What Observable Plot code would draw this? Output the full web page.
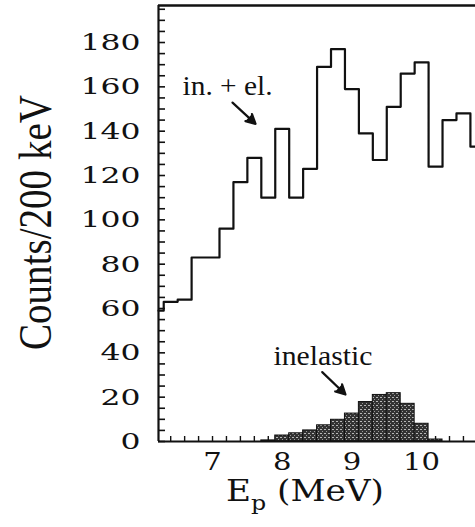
<!DOCTYPE html>
<html>
<head>
<meta charset="utf-8">
<script src="https://cdn.jsdelivr.net/npm/d3@7"></script>
<script src="https://cdn.jsdelivr.net/npm/@observablehq/plot@0.6"></script>
<style>
  body { margin: 0; background: #fff; }
  #chart { width: 475px; height: 527px; }
</style>
</head>
<body>
<div id="chart"></div>
<script>
// ---- data ----
const xDomain = [6.225, 10.773];          // E_p (MeV) visible range
const yDomain = [0, 196.7];               // Counts/200 keV visible range
const binWidth = 0.2;                     // 200 keV bins

// in. + el. (open histogram)
const totalBinStart = [6.1, 6.3, 6.5, 6.7, 6.9, 7.1, 7.3, 7.5, 7.7, 7.9, 8.1, 8.3,
                       8.5, 8.7, 8.9, 9.1, 9.3, 9.5, 9.7, 9.9, 10.1, 10.3, 10.5, 10.7];
const totalCounts   = [59, 63, 64, 83, 83, 96, 117, 128, 110, 141, 110, 123,
                       169, 177, 159, 139, 127, 151, 166, 171, 124, 145, 148, 133];

// inelastic (filled histogram)
const inelBinStart = [7.7, 7.9, 8.1, 8.3, 8.5, 8.7, 8.9, 9.1, 9.3, 9.5, 9.7, 9.9, 10.1];
const inelCounts   = [0.5, 2.7, 3.7, 5, 7.3, 9.8, 12.6, 17.8, 21, 21.8, 17, 8, 0.9];

// ticks
const yTickLabels = [0, 20, 40, 60, 80, 100, 120, 140, 160, 180];
const yMinorTicks = [0, 5, 10, 15, 20, 25, 30, 35, 40, 45, 50, 55, 60, 65, 70, 75, 80, 85, 90, 95,
                     100, 105, 110, 115, 120, 125, 130, 135, 140, 145, 150, 155, 160, 165, 170, 175, 180, 185, 190, 195];
const xTickLabels = [7, 8, 9, 10];
const xMinorTicks = [6.4, 6.6, 6.8, 7.0, 7.2, 7.4, 7.6, 7.8, 8.0, 8.2, 8.4, 8.6, 8.8, 9.0,
                     9.2, 9.4, 9.6, 9.8, 10.0, 10.2, 10.4, 10.6];

// annotations
const annotText = ["in. + el.", "inelastic"];
const annotX    = [6.57, 7.875];
const annotY    = [156.3, 34.6];
const annotLen  = [90, 99];
const arrowX1 = [7.287, 8.574];
const arrowY1 = [152.9, 31.3];
const arrowX2 = [7.617, 8.908];
const arrowY2 = [143.3, 21.2];

const yLabel = "Counts/200 keV";
const xLabelMain = "E", xLabelSub = "p", xLabelRest = " (MeV)";
const xLabelFull = xLabelMain + xLabelSub + xLabelRest;

// ---- layout ----
const W = 475, H = 527;
const mL = 158, mR = 0, mT = 5, mB = 86;
const pxPerX = (W - mL - mR) / (xDomain[1] - xDomain[0]);
const pxPerY = (H - mT - mB) / (yDomain[1] - yDomain[0]);

// ---- derived tables ----
const totalSteps = totalBinStart.map((s, i) => ({x: Math.max(s, xDomain[0]), y: totalCounts[i]}));
totalSteps.push({
  x: Math.min(totalBinStart[totalBinStart.length - 1] + binWidth, xDomain[1]),
  y: totalCounts[totalCounts.length - 1]
});
const inel = inelBinStart.map((s, i) => ({x1: s, x2: s + binWidth, y: inelCounts[i]}));
const annots = annotText.map((t, i) => ({t, x: annotX[i], y: annotY[i]}));
const arrows = arrowX1.map((x, i) => ({x1: x, y1: arrowY1[i], x2: arrowX2[i], y2: arrowY2[i]}));

const ink = "#111";

const svg = Plot.plot({
  width: W, height: H,
  marginLeft: mL, marginRight: mR, marginTop: mT, marginBottom: mB,
  x: {domain: xDomain, label: null},
  y: {domain: yDomain, label: null},
  style: {background: "#fff", color: ink, fontFamily: "DejaVu Serif"},
  marks: [
    // inward minor ticks
    Plot.ruleY(yMinorTicks, {y: d => d, x1: xDomain[0], x2: xDomain[0] + 7 / pxPerX, stroke: ink, strokeWidth: 1.6}),
    Plot.ruleX(xMinorTicks, {x: d => d, y1: 0, y2: 5 / pxPerY, stroke: ink, strokeWidth: 1.4}),
    // inelastic filled histogram
    Plot.rectY(inel, {x1: "x1", x2: "x2", y: "y", fill: "#444", stroke: ink, strokeWidth: 1}),
    // in. + el. step histogram
    Plot.line(totalSteps, {x: "x", y: "y", curve: "step-after", stroke: ink, strokeWidth: 2.2}),
    // frame: left, bottom, top
    Plot.ruleX([xDomain[0]], {stroke: ink, strokeWidth: 2.2}),
    Plot.ruleY([yDomain[0]], {stroke: ink, strokeWidth: 2.2}),
    Plot.ruleY([yDomain[1]], {stroke: ink, strokeWidth: 2.6}),
    // axes labels
    Plot.axisY(yTickLabels, {tickSize: 0, tickPadding: 18, fontSize: 23, fontFamily: "DejaVu Serif", fill: ink, label: null}),
    Plot.axisX(xTickLabels, {tickSize: 0, tickPadding: 11, fontSize: 25, fontFamily: "DejaVu Serif", fill: ink, label: null}),
    Plot.text([yLabel], {frameAnchor: "left", text: d => d, rotate: -90, dx: -123, dy: -1,
      textAnchor: "middle", lineAnchor: "middle", fontSize: 47, fontFamily: "Liberation Serif", fill: ink}),
    Plot.text([xLabelFull], {frameAnchor: "bottom", text: d => d, dx: -12, dy: 59,
      textAnchor: "middle", lineAnchor: "bottom", fontSize: 29, fontFamily: "DejaVu Serif", fill: ink}),
    // annotations
    Plot.text(annots, {x: "x", y: "y", text: "t", textAnchor: "start", lineAnchor: "bottom",
      fontSize: 28, fontFamily: "Liberation Serif", fill: ink}),
    Plot.arrow(arrows, {x1: "x1", y1: "y1", x2: "x2", y2: "y2", stroke: ink, fill: ink,
      strokeWidth: 2.2, headLength: 12, headAngle: 55})
  ]
});

// ---- post-processing: stipple fill, stretched glyphs, subscript ----
const s = d3.select(svg);
const defs = s.insert("defs", ":first-child");
const pat = defs.append("pattern").attr("id", "stip").attr("patternUnits", "userSpaceOnUse")
  .attr("width", 4).attr("height", 4);
pat.append("rect").attr("width", 4).attr("height", 4).attr("fill", "#333");
pat.append("rect").attr("x", 0).attr("y", 1).attr("width", 2).attr("height", 1).attr("fill", "#b8b8b8");
pat.append("rect").attr("x", 2).attr("y", 3).attr("width", 1).attr("height", 1).attr("fill", "#9a9a9a");
s.selectAll("rect").filter(function() { return this.getAttribute("fill") === "#444" || (this.parentNode && this.parentNode.getAttribute("fill") === "#444"); })
  .attr("fill", "url(#stip)");
s.selectAll("g").filter(function() { return this.getAttribute("fill") === "#444"; }).attr("fill", "url(#stip)");

const stretch = (el, len) => d3.select(el).attr("textLength", len).attr("lengthAdjust", "spacingAndGlyphs");
s.selectAll('g[aria-label="y-axis tick label"] text').each(function() {
  stretch(this, 20 * this.textContent.length);
});
s.selectAll('g[aria-label="x-axis tick label"] text').each(function() {
  stretch(this, 18.5 * this.textContent.length);
});
s.selectAll("text").each(function() {
  const c = this.textContent;
  if (c === yLabel) stretch(this, 255);
  const idx = annotText.indexOf(c);
  if (idx >= 0) stretch(this, annotLen[idx]);
  if (c === xLabelFull) {
    const t = d3.select(this);
    t.text(null);
    t.append("tspan").text(xLabelMain);
    t.append("tspan").text(xLabelSub).attr("dy", 9).attr("font-size", 20);
    t.append("tspan").text(xLabelRest).attr("dy", -9);
    stretch(this, 158);
  }
});

document.getElementById("chart").appendChild(svg);
</script>
</body>
</html>
